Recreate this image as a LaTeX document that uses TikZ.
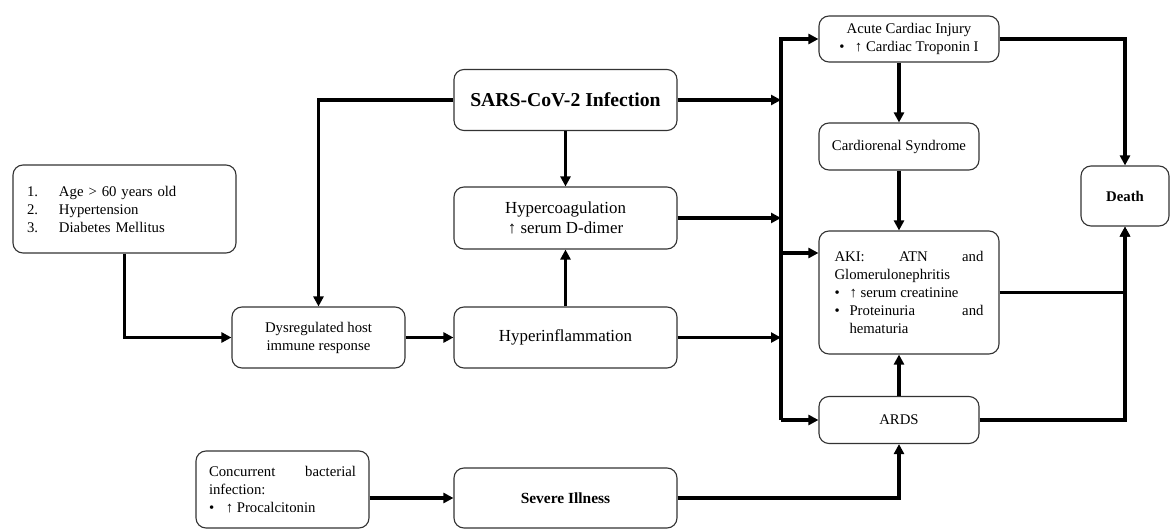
\documentclass[tikz,border=0pt]{standalone}
\usepackage{fontspec}
\setmainfont{Liberation Serif}
\usepackage{tikz}
\usetikzlibrary{arrows.meta}

\tikzset{
  box/.style={draw=black!80, line width=0.8pt, rounded corners=0.25cm, align=center, inner sep=0pt},
  conn/.style={line width=2.2pt, -{Triangle[length=0.25cm,width=0.25cm]}},
  txt/.style={font=\fontsize{10.5}{12.8}\selectfont},
  bigtxt/.style={font=\fontsize{12}{14.2}\selectfont},
}

\begin{document}
\begin{tikzpicture}
        \useasboundingbox (0,0) rectangle (29.25,-13.225);

        \node[box, txt, align=left, text width=4.875cm, inner xsep=0.35cm, minimum height=2.2cm] (risk) at (3.1125,-5.225)
            {\makebox[0.8cm][l]{1.}Age > 60 years old\\ \makebox[0.8cm][l]{2.}Hypertension\\ \makebox[0.8cm][l]{3.}Diabetes Mellitus};
        \node[box, txt, minimum width=4.325cm, minimum height=1.525cm] (dysreg) at (7.9625,-8.4375) {Dysregulated host\\ immune response};
        \node[box, font=\bfseries\fontsize{14}{16}\selectfont, minimum width=5.575cm, minimum height=1.525cm] (sars) at (14.1375,-2.5) {SARS-CoV-2 Infection};
        \node[box, bigtxt, minimum width=5.575cm, minimum height=1.55cm] (coag) at (14.1375,-5.45) {Hypercoagulation\\ ↑ serum D-dimer};
        \node[box, bigtxt, minimum width=5.575cm, minimum height=1.525cm] (infl) at (14.1375,-8.4375) {Hyperinflammation};
        \node[box, font=\bfseries\fontsize{11}{13}\selectfont, minimum width=5.575cm, minimum height=1.5cm] (severe) at (14.1375,-12.45) {Severe Illness};
        \node[box, txt, minimum width=4.325cm, minimum height=1.925cm] (bact) at (7.0625,-12.2375)
            {\parbox{3.675cm}{Concurrent\hfill bacterial\\ infection:\\ \makebox[0.42cm][l]{\textbullet}↑ Procalcitonin}};

        \node[box, txt, minimum width=4.5cm, minimum height=1.15cm] (acute) at (22.725,-0.975) {Acute Cardiac Injury\\ \makebox[0.39cm][l]{\textbullet}↑ Cardiac Troponin I};
        \node[box, txt, minimum width=4cm, minimum height=1.175cm] (renal) at (22.475,-3.6625) {Cardiorenal Syndrome};
        \node[box, txt, minimum width=4.5cm, minimum height=3.075cm] (aki) at (22.725,-7.3125)
            {\parbox{3.725cm}{AKI:\hfill ATN\hfill and\\ Glomerulonephritis\\ \makebox[0.375cm][l]{\textbullet}↑ serum creatinine\\ \makebox[0.375cm][l]{\textbullet}Proteinuria\hfill and\\ \hspace*{0.375cm}hematuria}};
        \node[box, txt, minimum width=4cm, minimum height=1.175cm] (ards) at (22.475,-10.5) {ARDS};
        \node[box, font=\bfseries\fontsize{10.5}{12.8}\selectfont, minimum width=2.2cm, minimum height=1.5cm] (death) at (28.125,-4.9) {Death};

        \coordinate (bustop) at (19.525,-0.975);
        \coordinate (busbot) at (19.525,-10.5);
        \coordinate (akiin) at (19.525,-6.325);

        \draw[conn] (risk.south) |- (dysreg.west);
        \draw[conn] (dysreg.east) -- (infl.west);
        \draw[conn] (sars.west) -| (dysreg.north);
        \draw[conn] (sars.south) -- (coag.north);
        \draw[conn] (infl.north) -- (coag.south);
        \draw[conn] (bact.east |- severe.west) -- (severe.west);

        \draw[conn] (sars.east) -- (sars.east -| bustop);
        \draw[conn] (coag.east) -- (coag.east -| bustop);
        \draw[conn] (infl.east) -- (infl.east -| bustop);
        \draw[conn] (busbot) -- (bustop) -- (acute.west);
        \draw[conn] (akiin) -- (akiin -| aki.west);
        \draw[conn] (busbot) -- (ards.west);

        \draw[conn] (acute.south -| renal.north) -- (renal.north);
        \draw[conn] (renal.south) -- (renal.south |- aki.north);
        \draw[conn] (ards.north) -- (ards.north |- aki.south);
        \draw[conn] (severe.east) -| (ards.south);

        \draw[conn] (acute.east) -| (death.north);
        \draw[conn] (aki.east) -| (death.south);
        \draw[conn] (ards.east) -| (death.south);
    \end{tikzpicture}
\end{document}
